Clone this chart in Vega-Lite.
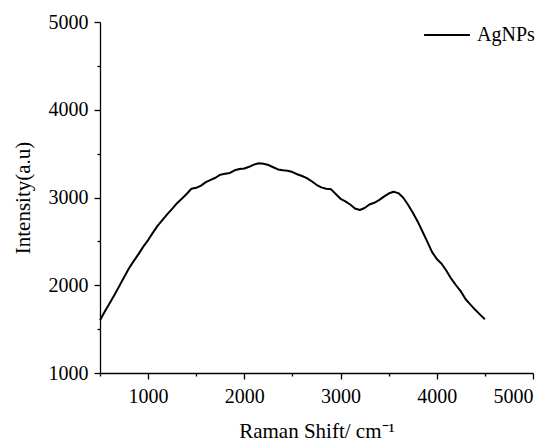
{
  "$schema": "https://vega.github.io/schema/vega-lite/v6.json",
  "width": 433,
  "height": 351,
  "autosize": "none",
  "padding": {"left": 100, "top": 22, "right": 19, "bottom": 68},
  "background": "white",
  "config": {
    "view": {"stroke": null},
    "font": "Liberation Serif, Times New Roman, serif",
    "axis": {
      "grid": false,
      "domainColor": "black",
      "domainWidth": 1.3,
      "tickColor": "black",
      "tickWidth": 1.3,
      "labelColor": "black",
      "titleColor": "black",
      "labelFont": "Liberation Serif, Times New Roman, serif",
      "titleFont": "Liberation Serif, Times New Roman, serif",
      "labelFontSize": 20,
      "titleFontSize": 21,
      "titleFontWeight": "normal"
    }
  },
  "data": {
    "values": [
      {"shift": 500, "intensity": 1600, "series": "AgNPs"},
      {"shift": 550, "intensity": 1700, "series": "AgNPs"},
      {"shift": 600, "intensity": 1795, "series": "AgNPs"},
      {"shift": 650, "intensity": 1890, "series": "AgNPs"},
      {"shift": 700, "intensity": 1990, "series": "AgNPs"},
      {"shift": 750, "intensity": 2090, "series": "AgNPs"},
      {"shift": 800, "intensity": 2190, "series": "AgNPs"},
      {"shift": 850, "intensity": 2275, "series": "AgNPs"},
      {"shift": 900, "intensity": 2355, "series": "AgNPs"},
      {"shift": 950, "intensity": 2440, "series": "AgNPs"},
      {"shift": 1000, "intensity": 2515, "series": "AgNPs"},
      {"shift": 1050, "intensity": 2600, "series": "AgNPs"},
      {"shift": 1100, "intensity": 2680, "series": "AgNPs"},
      {"shift": 1150, "intensity": 2745, "series": "AgNPs"},
      {"shift": 1200, "intensity": 2810, "series": "AgNPs"},
      {"shift": 1250, "intensity": 2870, "series": "AgNPs"},
      {"shift": 1300, "intensity": 2935, "series": "AgNPs"},
      {"shift": 1350, "intensity": 2985, "series": "AgNPs"},
      {"shift": 1400, "intensity": 3040, "series": "AgNPs"},
      {"shift": 1450, "intensity": 3100, "series": "AgNPs"},
      {"shift": 1500, "intensity": 3110, "series": "AgNPs"},
      {"shift": 1550, "intensity": 3135, "series": "AgNPs"},
      {"shift": 1600, "intensity": 3175, "series": "AgNPs"},
      {"shift": 1650, "intensity": 3200, "series": "AgNPs"},
      {"shift": 1700, "intensity": 3225, "series": "AgNPs"},
      {"shift": 1750, "intensity": 3260, "series": "AgNPs"},
      {"shift": 1800, "intensity": 3270, "series": "AgNPs"},
      {"shift": 1850, "intensity": 3280, "series": "AgNPs"},
      {"shift": 1900, "intensity": 3310, "series": "AgNPs"},
      {"shift": 1950, "intensity": 3325, "series": "AgNPs"},
      {"shift": 2000, "intensity": 3330, "series": "AgNPs"},
      {"shift": 2050, "intensity": 3350, "series": "AgNPs"},
      {"shift": 2100, "intensity": 3375, "series": "AgNPs"},
      {"shift": 2150, "intensity": 3390, "series": "AgNPs"},
      {"shift": 2200, "intensity": 3385, "series": "AgNPs"},
      {"shift": 2250, "intensity": 3370, "series": "AgNPs"},
      {"shift": 2300, "intensity": 3345, "series": "AgNPs"},
      {"shift": 2350, "intensity": 3320, "series": "AgNPs"},
      {"shift": 2400, "intensity": 3310, "series": "AgNPs"},
      {"shift": 2450, "intensity": 3305, "series": "AgNPs"},
      {"shift": 2500, "intensity": 3290, "series": "AgNPs"},
      {"shift": 2550, "intensity": 3265, "series": "AgNPs"},
      {"shift": 2600, "intensity": 3245, "series": "AgNPs"},
      {"shift": 2650, "intensity": 3220, "series": "AgNPs"},
      {"shift": 2700, "intensity": 3185, "series": "AgNPs"},
      {"shift": 2750, "intensity": 3145, "series": "AgNPs"},
      {"shift": 2800, "intensity": 3115, "series": "AgNPs"},
      {"shift": 2850, "intensity": 3100, "series": "AgNPs"},
      {"shift": 2900, "intensity": 3095, "series": "AgNPs"},
      {"shift": 2950, "intensity": 3040, "series": "AgNPs"},
      {"shift": 3000, "intensity": 2985, "series": "AgNPs"},
      {"shift": 3050, "intensity": 2955, "series": "AgNPs"},
      {"shift": 3100, "intensity": 2920, "series": "AgNPs"},
      {"shift": 3150, "intensity": 2875, "series": "AgNPs"},
      {"shift": 3200, "intensity": 2858, "series": "AgNPs"},
      {"shift": 3250, "intensity": 2880, "series": "AgNPs"},
      {"shift": 3300, "intensity": 2920, "series": "AgNPs"},
      {"shift": 3350, "intensity": 2940, "series": "AgNPs"},
      {"shift": 3400, "intensity": 2970, "series": "AgNPs"},
      {"shift": 3450, "intensity": 3010, "series": "AgNPs"},
      {"shift": 3500, "intensity": 3045, "series": "AgNPs"},
      {"shift": 3550, "intensity": 3066, "series": "AgNPs"},
      {"shift": 3600, "intensity": 3050, "series": "AgNPs"},
      {"shift": 3650, "intensity": 3000, "series": "AgNPs"},
      {"shift": 3700, "intensity": 2920, "series": "AgNPs"},
      {"shift": 3750, "intensity": 2830, "series": "AgNPs"},
      {"shift": 3800, "intensity": 2730, "series": "AgNPs"},
      {"shift": 3850, "intensity": 2615, "series": "AgNPs"},
      {"shift": 3900, "intensity": 2500, "series": "AgNPs"},
      {"shift": 3950, "intensity": 2380, "series": "AgNPs"},
      {"shift": 4000, "intensity": 2300, "series": "AgNPs"},
      {"shift": 4050, "intensity": 2245, "series": "AgNPs"},
      {"shift": 4100, "intensity": 2165, "series": "AgNPs"},
      {"shift": 4150, "intensity": 2075, "series": "AgNPs"},
      {"shift": 4200, "intensity": 2000, "series": "AgNPs"},
      {"shift": 4250, "intensity": 1930, "series": "AgNPs"},
      {"shift": 4300, "intensity": 1840, "series": "AgNPs"},
      {"shift": 4350, "intensity": 1780, "series": "AgNPs"},
      {"shift": 4400, "intensity": 1720, "series": "AgNPs"},
      {"shift": 4450, "intensity": 1665, "series": "AgNPs"},
      {"shift": 4500, "intensity": 1612, "series": "AgNPs"}
    ]
  },
  "mark": {"type": "line", "strokeWidth": 2, "strokeJoin": "round"},
  "encoding": {
    "x": {
      "field": "shift",
      "type": "quantitative",
      "scale": {"domain": [500, 5000], "nice": false, "zero": false},
      "axis": {
        "title": "Raman Shift/ cm⁻¹",
        "values": [500, 1000, 1500, 2000, 2500, 3000, 3500, 4000, 4500, 5000],
        "labelExpr": "datum.value % 1000 === 0 ? datum.value : ''",
        "format": "d",
        "tickSize": {"condition": {"test": "datum.value % 1000 === 0", "value": 6}, "value": 3},
        "labelPadding": 7,
        "titlePadding": 14
      }
    },
    "y": {
      "field": "intensity",
      "type": "quantitative",
      "scale": {"domain": [1000, 5000], "nice": false, "zero": false},
      "axis": {
        "title": "Intensity(a.u)",
        "values": [1000, 1500, 2000, 2500, 3000, 3500, 4000, 4500, 5000],
        "labelExpr": "datum.value % 1000 === 0 ? datum.value : ''",
        "format": "d",
        "tickSize": {"condition": {"test": "datum.value % 1000 === 0", "value": 6}, "value": 3},
        "labelPadding": 6,
        "titlePadding": 15
      }
    },
    "color": {
      "field": "series",
      "type": "nominal",
      "scale": {"range": ["black"]},
      "legend": {
        "title": null,
        "orient": "none",
        "legendX": 323,
        "legendY": -11,
        "symbolType": "stroke",
        "symbolSize": 2100,
        "symbolStrokeWidth": 2,
        "labelFont": "Liberation Serif, Times New Roman, serif",
        "labelFontSize": 20,
        "labelColor": "black",
        "labelOffset": 6
      }
    }
  }
}
